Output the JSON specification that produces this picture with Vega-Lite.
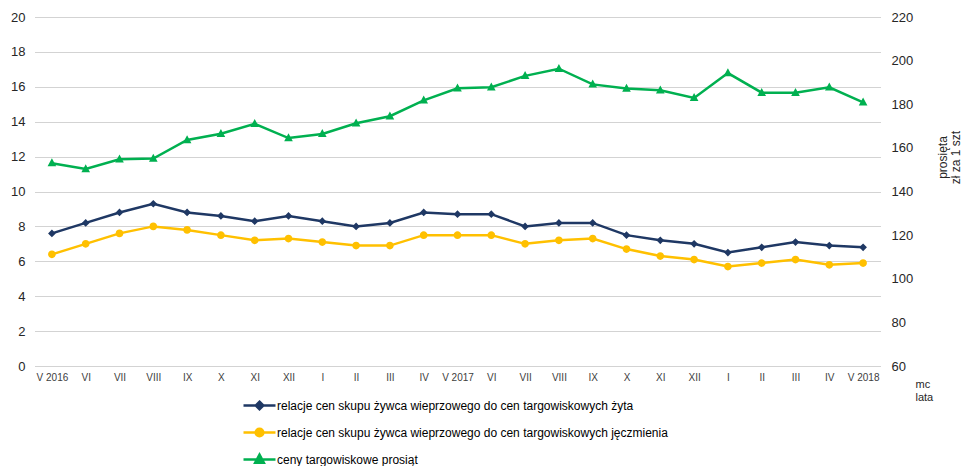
{
  "$schema": "https://vega.github.io/schema/vega-lite/v6.json",
  "width": 845,
  "height": 349,
  "autosize": {"type": "none"},
  "padding": {"left": 35, "top": 17, "right": 82, "bottom": 100},
  "config": {
    "view": {"stroke": null},
    "font": "Liberation Sans",
    "axis": {"domain": false, "ticks": false, "titleFontWeight": "normal"},
    "legend": {
      "padding": 0,
      "labelFontSize": 12,
      "labelColor": "#000000",
      "labelOffset": 0,
      "symbolSize": 1024,
      "symbolStrokeWidth": 2.5,
      "rowPadding": -11.5,
      "labelLimit": 600
    }
  },
  "data": {
    "values": [
      {"m": "V 2016", "rye": 7.6, "barley": 6.4, "piglets": 153.0},
      {"m": "VI 2016", "rye": 8.2, "barley": 7.0, "piglets": 150.3},
      {"m": "VII 2016", "rye": 8.8, "barley": 7.6, "piglets": 154.8},
      {"m": "VIII 2016", "rye": 9.3, "barley": 8.0, "piglets": 155.1},
      {"m": "IX 2016", "rye": 8.8, "barley": 7.8, "piglets": 163.6},
      {"m": "X 2016", "rye": 8.6, "barley": 7.5, "piglets": 166.5},
      {"m": "XI 2016", "rye": 8.3, "barley": 7.2, "piglets": 171.0},
      {"m": "XII 2016", "rye": 8.6, "barley": 7.3, "piglets": 164.5},
      {"m": "I 2017", "rye": 8.3, "barley": 7.1, "piglets": 166.4},
      {"m": "II 2017", "rye": 8.0, "barley": 6.9, "piglets": 171.3},
      {"m": "III 2017", "rye": 8.2, "barley": 6.9, "piglets": 174.5},
      {"m": "IV 2017", "rye": 8.8, "barley": 7.5, "piglets": 181.8},
      {"m": "V 2017", "rye": 8.7, "barley": 7.5, "piglets": 187.3},
      {"m": "VI 2017", "rye": 8.7, "barley": 7.5, "piglets": 187.8},
      {"m": "VII 2017", "rye": 8.0, "barley": 7.0, "piglets": 193.0},
      {"m": "VIII 2017", "rye": 8.2, "barley": 7.2, "piglets": 196.3},
      {"m": "IX 2017", "rye": 8.2, "barley": 7.3, "piglets": 189.1},
      {"m": "X 2017", "rye": 7.5, "barley": 6.7, "piglets": 187.2},
      {"m": "XI 2017", "rye": 7.2, "barley": 6.3, "piglets": 186.4},
      {"m": "XII 2017", "rye": 7.0, "barley": 6.1, "piglets": 182.9},
      {"m": "I 2018", "rye": 6.5, "barley": 5.7, "piglets": 194.3},
      {"m": "II 2018", "rye": 6.8, "barley": 5.9, "piglets": 185.3},
      {"m": "III 2018", "rye": 7.1, "barley": 6.1, "piglets": 185.3},
      {"m": "IV 2018", "rye": 6.9, "barley": 5.8, "piglets": 187.8},
      {"m": "V 2018", "rye": 6.8, "barley": 5.9, "piglets": 180.9}
    ]
  },
  "encoding": {
    "x": {
      "field": "m",
      "type": "ordinal",
      "sort": null,
      "scale": {
        "type": "point",
        "padding": 0.5,
        "domain": ["V 2016", "VI 2016", "VII 2016", "VIII 2016", "IX 2016", "X 2016", "XI 2016", "XII 2016", "I 2017", "II 2017", "III 2017", "IV 2017", "V 2017", "VI 2017", "VII 2017", "VIII 2017", "IX 2017", "X 2017", "XI 2017", "XII 2017", "I 2018", "II 2018", "III 2018", "IV 2018", "V 2018"]
      },
      "axis": {
        "labelAngle": 0,
        "labelFontSize": 10,
        "labelColor": "#404040",
        "labelPadding": 6,
        "labelExpr": "indexof(datum.value, 'V ') == 0 ? datum.value : split(datum.value, ' ')[0]",
        "title": ["mc", "lata"],
        "titleFontSize": 11,
        "titleColor": "#262626",
        "titleAlign": "left",
        "titleBaseline": "top",
        "titleAnchor": "start",
        "titleX": 880,
        "titleY": 12,
        "titleLineHeight": 13
      }
    }
  },
  "layer": [
    {
      "transform": [{"fold": ["rye", "barley"], "as": ["s", "v"]}],
      "encoding": {
        "y": {
          "field": "v",
          "type": "quantitative",
          "scale": {"domain": [0, 20], "nice": false, "zero": false},
          "axis": {
            "values": [0, 2, 4, 6, 8, 10, 12, 14, 16, 18, 20],
            "labelFontSize": 13,
            "labelColor": "#262626",
            "labelPadding": 10,
            "grid": true,
            "gridColor": "#a6a6a6",
            "gridDash": [1, 1],
            "title": null
          }
        }
      },
      "layer": [
        {
          "mark": {"type": "line", "strokeWidth": 2.5},
          "encoding": {
            "stroke": {
              "field": "s",
              "type": "nominal",
              "scale": {"domain": ["rye", "barley", "piglets"], "range": ["#1f3864", "#ffc000", "#00b050"]},
              "legend": {
                "title": null,
                "orient": "none",
                "legendX": 207,
                "legendY": 371,
                "direction": "vertical",
                "labelExpr": "datum.value == 'rye' ? 'relacje cen skupu żywca wieprzowego do cen targowiskowych żyta' : datum.value == 'barley' ? 'relacje cen skupu żywca wieprzowego do cen targowiskowych jęczmienia' : 'ceny targowiskowe prosiąt'"
              }
            }
          }
        },
        {
          "mark": {"type": "point", "filled": true, "size": 1024, "strokeWidth": 0, "opacity": 1},
          "encoding": {
            "color": {
              "field": "s",
              "type": "nominal",
              "scale": {"domain": ["rye", "barley", "piglets"], "range": ["#1f3864", "#ffc000", "#00b050"]},
              "legend": {
                "title": null,
                "orient": "none",
                "legendX": 207,
                "legendY": 371,
                "direction": "vertical",
                "labelExpr": "datum.value == 'rye' ? 'relacje cen skupu żywca wieprzowego do cen targowiskowych żyta' : datum.value == 'barley' ? 'relacje cen skupu żywca wieprzowego do cen targowiskowych jęczmienia' : 'ceny targowiskowe prosiąt'"
              }
            },
            "shape": {
              "field": "s",
              "type": "nominal",
              "scale": {
                "domain": ["rye", "barley", "piglets"],
                "range": [
                  "M-1,0L1,0M0,-0.24L0.24,0L0,0.24L-0.24,0Z",
                  "M-1,0L1,0M-0.24,0A0.24,0.24,0,1,1,0.24,0A0.24,0.24,0,1,1,-0.24,0Z",
                  "M-1,0L1,0M0,-0.3L0.27,0.2L-0.27,0.2Z"
                ]
              },
              "legend": {
                "title": null,
                "orient": "none",
                "legendX": 207,
                "legendY": 371,
                "direction": "vertical",
                "labelExpr": "datum.value == 'rye' ? 'relacje cen skupu żywca wieprzowego do cen targowiskowych żyta' : datum.value == 'barley' ? 'relacje cen skupu żywca wieprzowego do cen targowiskowych jęczmienia' : 'ceny targowiskowe prosiąt'"
              }
            }
          }
        }
      ]
    },
    {
      "transform": [{"fold": ["piglets"], "as": ["s", "v"]}],
      "encoding": {
        "y": {
          "field": "v",
          "type": "quantitative",
          "scale": {"domain": [60, 220], "nice": false, "zero": false},
          "axis": {
            "orient": "right",
            "values": [60, 80, 100, 120, 140, 160, 180, 200, 220],
            "labelFontSize": 13,
            "labelColor": "#262626",
            "labelPadding": 11,
            "grid": false,
            "title": ["prosięta", "zł za 1 szt"],
            "titleFontSize": 12,
            "titleColor": "#262626",
            "titleAngle": -90,
            "titleAlign": "center",
            "titleBaseline": "top",
            "titleX": 57,
            "titleY": 140,
            "titleLineHeight": 13
          }
        }
      },
      "layer": [
        {
          "mark": {"type": "line", "strokeWidth": 2.5},
          "encoding": {
            "stroke": {
              "field": "s",
              "type": "nominal",
              "scale": {"domain": ["rye", "barley", "piglets"], "range": ["#1f3864", "#ffc000", "#00b050"]},
              "legend": {
                "title": null,
                "orient": "none",
                "legendX": 207,
                "legendY": 371,
                "direction": "vertical",
                "labelExpr": "datum.value == 'rye' ? 'relacje cen skupu żywca wieprzowego do cen targowiskowych żyta' : datum.value == 'barley' ? 'relacje cen skupu żywca wieprzowego do cen targowiskowych jęczmienia' : 'ceny targowiskowe prosiąt'"
              }
            }
          }
        },
        {
          "mark": {"type": "point", "filled": true, "size": 1024, "strokeWidth": 0, "opacity": 1},
          "encoding": {
            "color": {
              "field": "s",
              "type": "nominal",
              "scale": {"domain": ["rye", "barley", "piglets"], "range": ["#1f3864", "#ffc000", "#00b050"]},
              "legend": {
                "title": null,
                "orient": "none",
                "legendX": 207,
                "legendY": 371,
                "direction": "vertical",
                "labelExpr": "datum.value == 'rye' ? 'relacje cen skupu żywca wieprzowego do cen targowiskowych żyta' : datum.value == 'barley' ? 'relacje cen skupu żywca wieprzowego do cen targowiskowych jęczmienia' : 'ceny targowiskowe prosiąt'"
              }
            },
            "shape": {
              "field": "s",
              "type": "nominal",
              "scale": {
                "domain": ["rye", "barley", "piglets"],
                "range": [
                  "M-1,0L1,0M0,-0.24L0.24,0L0,0.24L-0.24,0Z",
                  "M-1,0L1,0M-0.24,0A0.24,0.24,0,1,1,0.24,0A0.24,0.24,0,1,1,-0.24,0Z",
                  "M-1,0L1,0M0,-0.3L0.27,0.2L-0.27,0.2Z"
                ]
              },
              "legend": {
                "title": null,
                "orient": "none",
                "legendX": 207,
                "legendY": 371,
                "direction": "vertical",
                "labelExpr": "datum.value == 'rye' ? 'relacje cen skupu żywca wieprzowego do cen targowiskowych żyta' : datum.value == 'barley' ? 'relacje cen skupu żywca wieprzowego do cen targowiskowych jęczmienia' : 'ceny targowiskowe prosiąt'"
              }
            }
          }
        }
      ]
    }
  ],
  "resolve": {"scale": {"y": "independent"}}
}
